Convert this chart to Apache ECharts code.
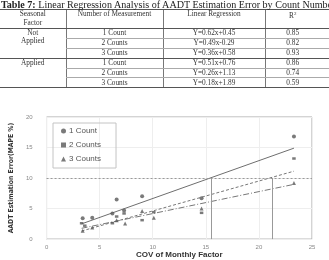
<!DOCTYPE html>
<html>
<head>
<meta charset="utf-8">
<script src="https://cdn.jsdelivr.net/npm/echarts@6/dist/echarts.min.js"></script>
<style>
  html, body { margin: 0; padding: 0; background: #fff; }
  #main { position: absolute; left: 0; top: 0; width: 329px; height: 260px; }
  #tbl { position: absolute; left: 0; top: 0; width: 329px; overflow: hidden; z-index: 2;
         font-family: "Liberation Serif", "DejaVu Serif", serif; color: #333; }
  .cap { font-size: 10.1px; white-space: nowrap; line-height: 9px; height: 9px; padding-left: 1px; color: #222; }
  table { border-collapse: collapse; width: 345px; font-size: 7.3px; table-layout: fixed; }
  td { text-align: center; padding: 0; height: 8.9px; line-height: 8px; }
  .hd td { height: 18px; vertical-align: top; line-height: 8.5px; border-top: 1px solid #555; border-bottom: 1px solid #555; }
  .v { border-left: 1px solid #777; }
  .r { border-bottom: 1px solid #aaa; }
  .g { border-bottom: 1px solid #555; }
  .last td { border-bottom: 1.5px solid #555; }
</style>
</head>
<body>
<div id="tbl"></div>
<div id="main"></div>
<script>
// table
var tableGroups = ['Not Applied', 'Applied'];
var countNames = ['1 Count', '2 Counts', '3 Counts'];
var slopes = [[0.62, 0.49, 0.36], [0.51, 0.26, 0.18]];
var intercepts = [[0.45, -0.29, 0.58], [0.76, 1.13, 1.89]];
var r2 = [['0.85', '0.82', '0.93'], ['0.86', '0.74', '0.59']];

function eq(a, b) {
  return 'Y=' + a.toFixed(2) + 'x' + (b < 0 ? '-' : '+') + Math.abs(b).toFixed(2);
}

var html = '<div class="cap"><b>Table 7:</b> Linear Regression Analysis of AADT Estimation Error by Count Number</div>';
html += '<table><colgroup><col style="width:66px"><col style="width:97px"><col style="width:102px"><col style="width:80px"></colgroup>';
html += '<tr class="hd"><td>Seasonal<br>Factor</td><td class="v">Number of Measurement</td><td class="v">Linear Regression</td><td class="v" style="text-indent:-25px">R<sup style="font-size:5px">2</sup></td></tr>';
tableGroups.forEach(function (g, gi) {
  countNames.forEach(function (c, ci) {
    var last = ci === 2;
    var cls = last ? 'g' : 'r';
    html += '<tr' + (gi === 1 && last ? ' class="last"' : '') + '>';
    if (ci === 0) {
      html += '<td rowspan="3" class="g" style="vertical-align:top">' + g.replace(' ', '<br>') + '</td>';
    }
    html += '<td class="v ' + cls + '">' + c + '</td>';
    html += '<td class="v ' + cls + '">' + eq(slopes[gi][ci], intercepts[gi][ci]) + '</td>';
    html += '<td class="v ' + cls + '" style="text-indent:-25px">' + r2[gi][ci] + '</td></tr>';
  });
});
html += '</table>';
document.getElementById('tbl').innerHTML = html;

// chart data (COV of monthly factor, MAPE %)
var count1 = [[3.4, 3.4], [4.3, 3.5], [6.2, 4.2], [6.6, 6.5], [7.3, 4.7], [9.0, 7.0], [14.6, 6.7], [23.3, 16.8]];
var count2 = [[3.3, 2.6], [3.6, 2.2], [6.2, 2.6], [6.6, 3.7], [7.3, 4.2], [9.0, 3.1], [10.1, 4.4], [14.6, 4.3], [23.3, 13.2]];
var count3 = [[3.4, 1.35], [4.3, 1.9], [6.6, 3.1], [7.4, 2.55], [9.0, 4.6], [10.1, 3.5], [14.6, 5.0], [23.3, 9.2]];
var fitRange = [3.3, 23.3];
var thresholdY = 10;
var crossX = [15.5, 21.3];

var chartDom = document.getElementById('main');
var myChart = echarts.init(chartDom);

function fitLine(k) {
  return fitRange.map(function (x) { return [x, slopes[0][k] * x + intercepts[0][k]]; });
}

var lineStyles = [
  { color: '#6e6e6e', width: 1, type: 'solid' },
  { color: '#777', width: 1, type: [3, 2] },
  { color: '#777', width: 1, type: [6, 2, 1, 2] }
];

var option = {
  animation: false,
  textStyle: { fontFamily: 'Liberation Sans' },
  grid: {
    left: 44, top: 117, width: 268, height: 123,
    show: true, borderColor: '#a8a8a8', borderWidth: 1
  },
  legend: {
    orient: 'vertical',
    left: 53, top: 123,
    padding: [4, 15, 5, 8],
    itemGap: 6,
    itemWidth: 5, itemHeight: 5,
    borderColor: '#c4c4c4', borderWidth: 1,
    textStyle: { fontSize: 8, color: '#555', padding: [0, 0, 0, -2] },
    data: countNames
  },
  xAxis: {
    type: 'value', min: 0, max: 25, interval: 5,
    name: 'COV of Monthly Factor', nameLocation: 'middle', nameGap: 11,
    nameTextStyle: { fontSize: 8, fontWeight: 'bold', color: '#333' },
    axisLine: { show: false }, axisTick: { show: false },
    axisLabel: { fontSize: 6, color: '#888', margin: 5 },
    splitLine: { lineStyle: { color: '#eeeeee' } }
  },
  yAxis: {
    type: 'value', min: 0, max: 20, interval: 5,
    name: 'AADT Estimation Error(MAPE %)', nameLocation: 'middle', nameGap: 19,
    nameTextStyle: { fontSize: 6.8, fontWeight: 'bold', color: '#333', fontFamily: 'DejaVu Sans Condensed, Liberation Sans' },
    axisLine: { show: false }, axisTick: { show: false },
    axisLabel: { fontSize: 6, color: '#888', margin: 14 },
    splitLine: { lineStyle: { color: '#eeeeee' } }
  },
  series: [
    {
      name: countNames[0], type: 'scatter', data: count1,
      symbol: 'circle', symbolSize: 4, itemStyle: { color: '#595959' }, z: 5
    },
    {
      name: countNames[1], type: 'scatter', data: count2,
      symbol: 'rect', symbolSize: [3.5, 2.5], itemStyle: { color: '#595959' }, z: 5
    },
    {
      name: countNames[2], type: 'scatter', data: count3,
      symbol: 'triangle', symbolSize: 4, itemStyle: { color: '#595959' }, z: 5
    },
    {
      type: 'line', data: fitLine(0), symbol: 'none', lineStyle: lineStyles[0],
      markLine: {
        silent: true, symbol: 'none', label: { show: false },
        lineStyle: { color: '#999', width: 1, type: 'solid' },
        data: [
          { yAxis: thresholdY, lineStyle: { type: [2, 2], color: '#999' } },
          [{ coord: [crossX[0], 0] }, { coord: [crossX[0], thresholdY] }],
          [{ coord: [crossX[1], 0] }, { coord: [crossX[1], thresholdY] }]
        ]
      }
    },
    { type: 'line', data: fitLine(1), symbol: 'none', lineStyle: lineStyles[1] },
    { type: 'line', data: fitLine(2), symbol: 'none', lineStyle: lineStyles[2] }
  ]
};

option && myChart.setOption(option);
</script>
</body>
</html>
